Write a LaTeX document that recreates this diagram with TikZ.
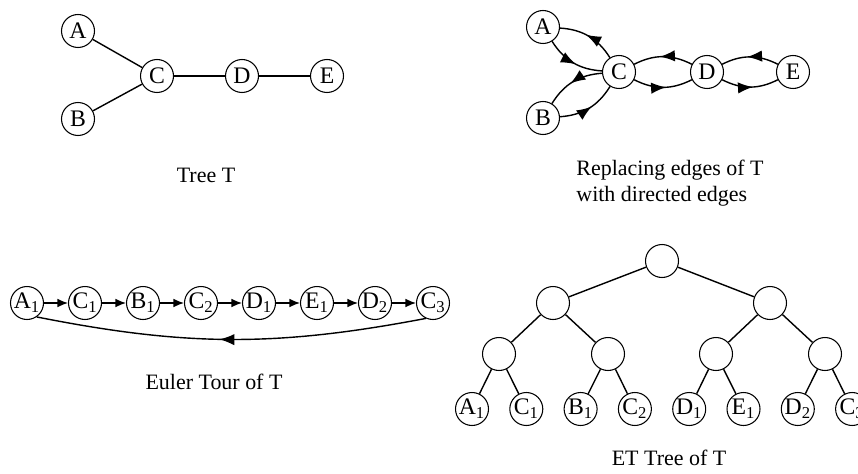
\documentclass[tikz,border=0pt]{standalone}
\usepackage{fontspec}
\setmainfont{Liberation Serif}
\usetikzlibrary{arrows.meta,positioning,calc,decorations.markings}

\tikzset{
  vtx/.style={draw, circle, minimum size=0.66cm, inner sep=0pt, line width=0.6pt,
    font=\fontsize{13.5}{15}\selectfont},
  tline/.style={line width=0.8pt},
  tarrow/.style={line width=0.8pt, -{Latex[length=6pt,width=5pt]}},
  midarrow/.style={line width=0.8pt, postaction={decorate},
    decoration={markings, mark=at position #1 with {\arrow{Latex[length=8.5pt,width=6.5pt]}}}},
  midarrow/.default=0.55,
  caption/.style={font=\fontsize{12.5}{14.5}\selectfont, align=left},
}

\begin{document}
\begin{tikzpicture}[x=0.02cm, y=-0.02cm]
  \useasboundingbox (0,0) rectangle (858,473);

  % Tree T
  \node[vtx] (a) at (78,31) {A};
  \node[vtx] (b) at (78,119) {B};
  \node[vtx] (c) at (157,76) {C};
  \node[vtx] (d) at (242,76) {D};
  \node[vtx] (e) at (327,76) {E};
  \draw[tline] (a) -- (c);
  \draw[tline] (b) -- (c);
  \draw[tline] (c) -- (d) -- (e);
  \node[caption] (capT) at (206,175) {Tree T};

  % Directed edges
  \node[vtx] (a2) at (543,27) {A};
  \node[vtx] (b2) at (543,118) {B};
  \node[vtx] (c2) at (619,72) {C};
  \node[vtx] (d2) at (707,72) {D};
  \node[vtx] (e2) at (793,72) {E};
  \draw[midarrow] (a2) to[bend right=27] (c2);
  \draw[midarrow] (c2) to[bend right=27] (a2);
  \draw[midarrow] (c2) to[bend right=27] (b2);
  \draw[midarrow] (b2) to[bend right=27] (c2);
  \draw[midarrow] (c2) to[bend right=27] (d2);
  \draw[midarrow] (d2) to[bend right=27] (c2);
  \draw[midarrow] (d2) to[bend right=27] (e2);
  \draw[midarrow] (e2) to[bend right=27] (d2);
  \node[caption] (capDir) at (670,183) {Replacing edges of T\\with directed edges};

  % Euler tour
  \foreach \v/\s [count=\i] in {A/1,C/1,B/1,C/2,D/1,E/1,D/2,C/3}
    \node[vtx] (t\i) at ({27+58*(\i-1)},303) {\v\textsubscript{\s}};
  \foreach \i [count=\j from 2] in {1,...,7}
    \draw[tarrow] (t\i) -- (t\j);
  \draw[midarrow=0.53] (t8.-115) to[bend left=11] (t1.-55);
  \node[caption] (capEuler) at (214,382) {Euler Tour of T};

  % ET tree
  \node[vtx] (n0) at (662,261) {};
  \node[vtx] (n1) at (553,303) {};
  \node[vtx] (n2) at (770,303) {};
  \node[vtx] (n3) at (499,354) {};
  \node[vtx] (n4) at (608,354) {};
  \node[vtx] (n5) at (716,354) {};
  \node[vtx] (n6) at (825,354) {};
  \foreach \v/\s [count=\i] in {A/1,C/1,B/1,C/2,D/1,E/1,D/2,C/3}
    \node[vtx] (f\i) at ({472+54.3*(\i-1)},409) {\v\textsubscript{\s}};
  \foreach \p/\q in {n0/n1,n0/n2,n1/n3,n1/n4,n2/n5,n2/n6,n3/f1,n3/f2,n4/f3,n4/f4,n5/f5,n5/f6,n6/f7,n6/f8}
    \draw[tline] (\p) -- (\q);
  \node[caption] (capET) at (669,458) {ET Tree of T};
\end{tikzpicture}
\end{document}
